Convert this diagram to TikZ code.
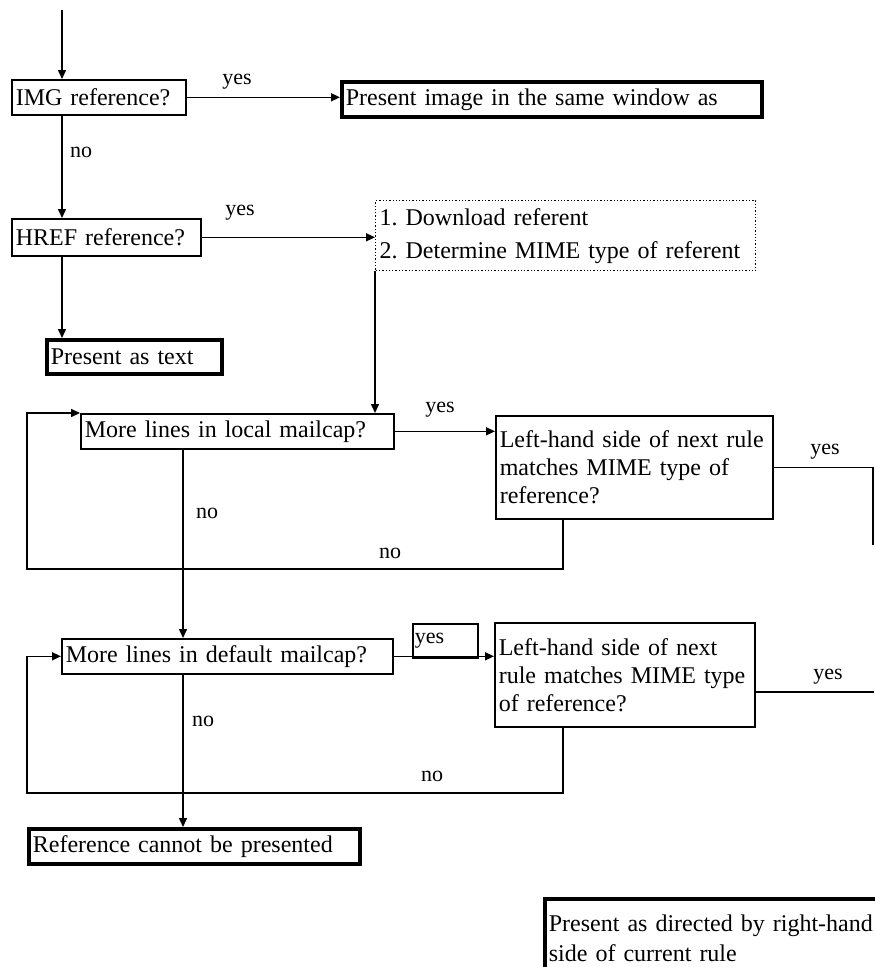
\documentclass[tikz,border=0pt]{standalone}
\usepackage{fontspec}
\setmainfont{Liberation Serif}
\usetikzlibrary{arrows.meta}
\frenchspacing
\begin{document}
\begin{tikzpicture}[x=1pt,y=-1pt,
  every node/.style={font=\fontsize{24}{28}\selectfont},
  bx/.style={draw, line width=1.6pt, anchor=north west, align=left, inner xsep=4pt, inner ysep=0pt},
  thickbx/.style={bx, line width=3.8pt},
  dotbx/.style={bx, line width=1.3pt, dotted, font=\fontsize{24}{33}\selectfont},
  lbl/.style={font=\fontsize{22}{26}\selectfont, inner sep=0pt},
  conn/.style={line width=1.5pt},
  arr/.style={conn, -{Triangle[length=9pt,width=8pt]}}]
\useasboundingbox (0,0) rectangle (875,967);
\clip (0,0) rectangle (875,967);

% nodes
\node[bx, text width=166pt, minimum height=35pt] (img) at (11,79) {IMG reference?};
\node[thickbx, text width=412pt, minimum height=35pt] (present) at (340,80) {Present image in the same window as};
\node[bx, text width=181pt, minimum height=37pt] (href) at (11,218) {HREF reference?};
\node[dotbx, text width=372pt, minimum height=70pt] (dl) at (375,200) {1. Download referent\\2. Determine MIME type of referent};
\node[thickbx, text width=167pt, minimum height=34pt] (ptext) at (45,338) {Present as text};
\node[bx, text width=305pt, minimum height=35pt] (local) at (80,413) {More lines in local mailcap?};
\node[bx, text width=269pt, minimum height=103pt] (rule1) at (495,415) {Left-hand side of next rule\\matches MIME type of\\reference?};
\node[bx, text width=323pt, minimum height=35pt] (default) at (61,638) {More lines in default mailcap?};
\node[bx, text width=61pt, minimum height=34pt, font=\fontsize{22}{26}\selectfont, inner xsep=2pt] (yesbox) at (412,623) {yes};
\node[bx, text width=252pt, minimum height=104pt] (rule2) at (494,622) {Left-hand side of next\\rule matches MIME type\\of reference?};
\node[thickbx, text width=323pt, minimum height=35pt] (cannot) at (27,827) {Reference cannot be presented};
\node[thickbx, text width=360pt, minimum height=78pt, font=\fontsize{24}{30}\selectfont] (directed) at (543,897) {Present as directed by right-hand\\side of current rule};

% coordinates
\coordinate (top) at (62,10);
\coordinate (vx) at (183,0);
\coordinate (c1) at (27,569);
\coordinate (c2) at (27,793);
\coordinate (c3) at (873,545);

% connectors
\draw[arr] (top) -- (top |- img.north);
\draw[arr] (top |- img.south) -- (top |- href.north);
\draw[arr] (top |- href.south) -- (top |- ptext.north);
\draw[arr] (img.east) -- (img.east -| present.west);
\draw[arr] (href.east) -- (href.east -| dl.west);
\draw[arr] (dl.south west) -- (dl.south west |- local.north);
\draw[arr] (local.east) -- (local.east -| rule1.west);
\draw[conn] (rule1.east) -- (rule1.east -| c3) -- (c3);
\draw[arr] ([xshift=68pt]rule1.south west) |- (c1) |- (local.north west);
\draw[arr] (vx |- local.south) -- (vx |- default.north);
\draw[arr] (vx |- default.south) -- (vx |- cannot.north);
\draw[arr] (default.east) -- (default.east -| rule2.west);
\draw[conn] ([yshift=-17pt]rule2.east) -- ++(118,0);
\draw[arr] ([xshift=69pt]rule2.south west) |- (c2) |- (default.west);

% labels
\node[lbl] (y1) at (237,82) {yes};
\node[lbl] (n1) at (81,152) {no};
\node[lbl] (y2) at (240,213) {yes};
\node[lbl] (y3) at (440,410) {yes};
\node[lbl] (n2) at (207,513) {no};
\node[lbl] (n3) at (390,553) {no};
\node[lbl] (y4) at (825,452) {yes};
\node[lbl] (n4) at (203,721) {no};
\node[lbl] (n5) at (432,776) {no};
\node[lbl] (y5) at (828,677) {yes};
\end{tikzpicture}
\end{document}
